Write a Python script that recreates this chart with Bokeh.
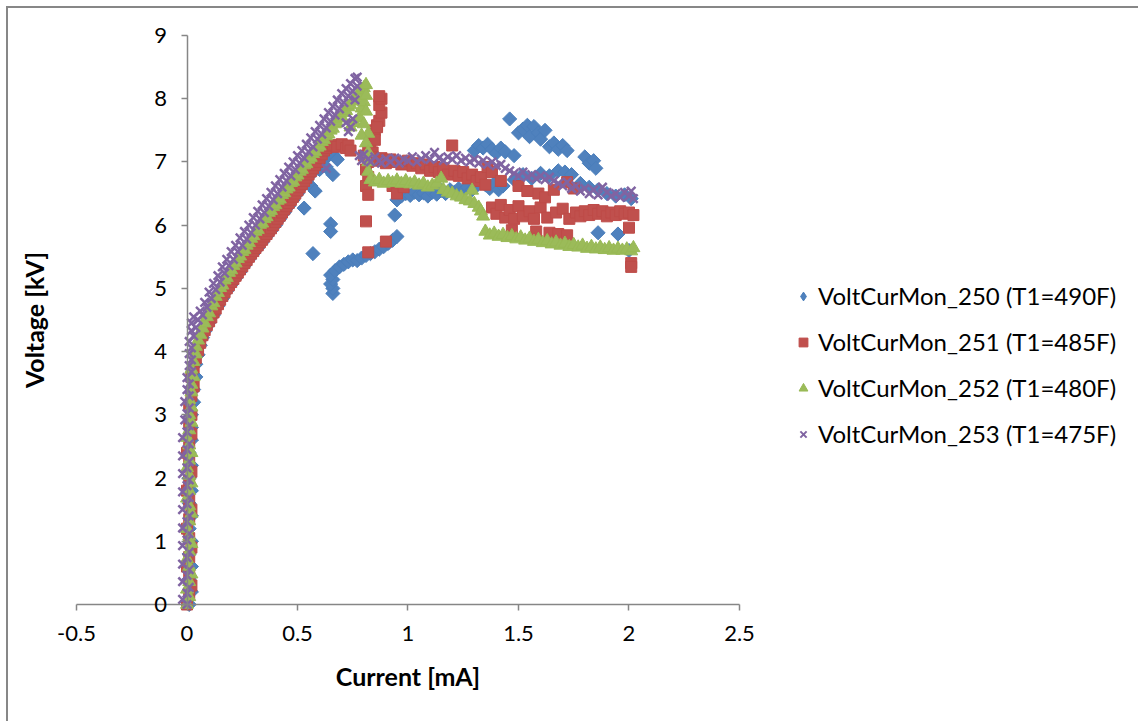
import math

from bokeh.embed import file_html
from bokeh.models import (ColumnDataSource, CustomJSTickFormatter, FixedTicker,
                          Legend, LegendItem, Range1d)
from bokeh.plotting import figure
from bokeh.resources import INLINE

# ---- measured current [mA] / voltage [kV] pairs, one list per run ----
run_250 = [
    (0.01, 0.00), (0.02, 0.20), (0.01, 0.40), (0.02, 0.60), (0.01, 0.80), (0.02, 1.00),
    (0.01, 1.20), (0.02, 1.40), (0.01, 1.60), (0.02, 1.80), (0.01, 2.00), (0.02, 2.20),
    (0.01, 2.40), (0.02, 2.60), (0.02, 2.80), (0.02, 3.00), (0.03, 3.20), (0.03, 3.40),
    (0.04, 3.60), (0.04, 3.80), (0.05, 3.95), (0.06, 4.10), (0.07, 4.22), (0.08, 4.32),
    (0.09, 4.40), (0.10, 4.46), (0.12, 4.58), (0.14, 4.72), (0.16, 4.84), (0.18, 4.96),
    (0.20, 5.06), (0.22, 5.16), (0.24, 5.26), (0.26, 5.36), (0.28, 5.46), (0.30, 5.55),
    (0.32, 5.64), (0.34, 5.73), (0.36, 5.82), (0.38, 5.91), (0.40, 6.00), (0.42, 6.10),
    (0.44, 6.20), (0.46, 6.30), (0.48, 6.40), (0.50, 6.50), (0.52, 6.60), (0.54, 6.70),
    (0.56, 6.80), (0.58, 6.90), (0.60, 7.00), (0.62, 7.08), (0.64, 7.10), (0.66, 7.12),
    (0.68, 7.04), (0.58, 6.96), (0.60, 6.88), (0.63, 6.92), (0.66, 6.80), (0.56, 6.62),
    (0.58, 6.54), (0.53, 6.27), (0.65, 6.02), (0.65, 5.90), (0.57, 5.55),
    (0.66, 4.92), (0.66, 5.00), (0.65, 5.07), (0.66, 5.14), (0.65, 5.21), (0.67, 5.28),
    (0.69, 5.34), (0.71, 5.38), (0.73, 5.42), (0.75, 5.45), (0.77, 5.44), (0.79, 5.48),
    (0.81, 5.52), (0.83, 5.55), (0.85, 5.58), (0.87, 5.62), (0.89, 5.66), (0.91, 5.71),
    (0.93, 5.76), (0.95, 5.82), (0.94, 6.16), (0.95, 6.40), (0.97, 6.46), (0.99, 6.50),
    (1.01, 6.47), (1.03, 6.52), (1.05, 6.48), (1.07, 6.51), (1.09, 6.46), (1.11, 6.52),
    (1.13, 6.49), (1.15, 6.55), (1.17, 6.50), (1.19, 6.56), (1.21, 6.52), (1.23, 6.58),
    (1.25, 6.54), (1.27, 6.60), (1.29, 6.56), (1.31, 6.62), (1.33, 6.70), (1.35, 6.64),
    (1.37, 6.58), (1.39, 6.66), (1.41, 6.56), (1.43, 6.62),
    (1.30, 7.18), (1.32, 7.26), (1.34, 7.22), (1.36, 7.28), (1.38, 7.20), (1.40, 7.14),
    (1.42, 7.22), (1.44, 7.16), (1.46, 7.68), (1.48, 7.10), (1.50, 7.46), (1.52, 7.52),
    (1.54, 7.58), (1.55, 7.40), (1.57, 7.56), (1.59, 7.46), (1.60, 7.36), (1.62, 7.50),
    (1.64, 7.24), (1.66, 7.30), (1.68, 7.20), (1.70, 7.26), (1.72, 7.18), (1.80, 7.08),
    (1.82, 6.98), (1.84, 7.02), (1.85, 6.90),
    (1.48, 6.72), (1.52, 6.80), (1.56, 6.74), (1.60, 6.82), (1.64, 6.78), (1.68, 6.86),
    (1.71, 6.84), (1.74, 6.80), (1.78, 6.66), (1.82, 6.60), (1.86, 6.56), (1.90, 6.50),
    (1.94, 6.46), (1.98, 6.48), (2.01, 6.42), (1.86, 5.88), (1.95, 5.86), (2.00, 5.60),
]

run_251 = [
    (0.00, 0.00), (0.01, 0.15), (0.02, 0.30), (0.01, 0.45), (0.00, 0.60), (0.01, 0.75),
    (0.02, 0.90), (0.01, 1.05), (0.00, 1.20), (0.01, 1.35), (0.02, 1.50), (0.01, 1.65),
    (0.00, 1.80), (0.01, 1.95), (0.02, 2.10), (0.01, 2.25), (0.00, 2.40), (0.01, 2.55),
    (0.02, 2.70), (0.01, 2.85), (0.02, 3.00), (0.01, 3.15), (0.02, 3.30), (0.03, 3.45),
    (0.02, 3.60), (0.03, 3.75), (0.04, 3.90), (0.05, 4.02), (0.06, 4.14), (0.07, 4.26),
    (0.08, 4.34), (0.09, 4.42), (0.10, 4.48), (0.11, 4.54), (0.12, 4.62), (0.13, 4.68),
    (0.14, 4.75), (0.15, 4.82), (0.16, 4.88), (0.17, 4.94), (0.18, 5.00), (0.19, 5.05),
    (0.20, 5.10), (0.21, 5.15), (0.22, 5.20), (0.23, 5.25), (0.24, 5.30), (0.25, 5.35),
    (0.26, 5.40), (0.27, 5.45), (0.28, 5.50), (0.29, 5.55), (0.30, 5.59), (0.31, 5.64),
    (0.32, 5.68), (0.33, 5.73), (0.34, 5.77), (0.35, 5.82), (0.36, 5.86), (0.37, 5.91),
    (0.38, 5.95), (0.39, 6.00), (0.40, 6.05), (0.41, 6.10), (0.42, 6.15), (0.43, 6.20),
    (0.44, 6.25), (0.45, 6.30), (0.46, 6.35), (0.47, 6.40), (0.48, 6.45), (0.49, 6.50),
    (0.50, 6.55), (0.51, 6.60), (0.52, 6.65), (0.53, 6.70), (0.54, 6.75), (0.55, 6.80),
    (0.56, 6.85), (0.57, 6.90), (0.58, 6.95), (0.59, 7.00), (0.60, 7.06), (0.61, 7.12),
    (0.62, 7.18), (0.63, 7.22), (0.64, 7.25), (0.66, 7.27), (0.68, 7.24), (0.70, 7.28),
    (0.72, 7.22), (0.73, 7.26), (0.74, 7.18),
    (0.80, 7.10), (0.82, 7.20), (0.83, 7.30), (0.84, 7.40), (0.85, 7.50), (0.86, 7.58),
    (0.87, 7.65), (0.88, 7.78), (0.87, 7.90), (0.88, 8.00), (0.87, 8.04), (0.86, 7.55),
    (0.85, 7.35), (0.84, 7.15), (0.82, 7.00), (0.81, 6.88), (0.82, 6.76), (0.81, 6.62),
    (0.82, 6.48), (0.81, 6.06), (0.82, 5.57), (0.90, 5.74),
    (0.84, 7.08), (0.86, 7.02), (0.88, 7.06), (0.90, 6.98), (0.92, 7.04), (0.93, 6.62),
    (0.95, 6.50), (0.95, 7.00), (0.97, 6.96), (0.98, 6.60), (1.00, 7.02), (1.02, 6.94),
    (1.04, 6.98), (1.06, 6.90), (1.08, 6.96), (1.10, 6.86), (1.12, 6.92), (1.14, 6.84),
    (1.16, 6.90), (1.18, 6.80), (1.20, 7.26), (1.21, 6.86), (1.23, 6.78), (1.25, 6.84),
    (1.27, 6.74), (1.29, 6.80), (1.31, 6.70), (1.33, 6.76), (1.35, 6.64), (1.36, 6.92),
    (1.38, 6.84), (1.38, 6.28), (1.40, 6.18), (1.42, 6.70), (1.42, 6.32), (1.44, 6.12),
    (1.46, 6.24), (1.47, 5.92), (1.48, 6.10), (1.50, 6.30), (1.50, 6.62), (1.52, 6.14),
    (1.54, 6.54), (1.55, 6.22), (1.57, 6.10), (1.58, 5.90), (1.59, 6.50), (1.60, 6.28),
    (1.62, 6.44), (1.63, 6.12), (1.64, 5.88), (1.66, 6.56), (1.67, 6.20), (1.68, 5.86),
    (1.70, 6.26), (1.72, 6.68), (1.72, 5.84), (1.73, 6.10), (1.75, 6.58), (1.76, 6.20),
    (1.78, 6.14), (1.80, 6.22), (1.82, 6.16), (1.84, 6.24), (1.86, 6.18), (1.88, 6.22),
    (1.90, 6.14), (1.92, 6.20), (1.94, 6.16), (1.96, 6.22), (1.98, 6.18), (2.00, 6.20),
    (2.00, 5.96), (2.01, 5.40), (2.01, 5.34), (2.02, 6.16),
]

run_252 = [
    (0.00, 0.00), (0.01, 0.12), (0.00, 0.24), (0.01, 0.36), (0.02, 0.48), (0.01, 0.60),
    (0.00, 0.72), (0.01, 0.84), (0.02, 0.96), (0.01, 1.08), (0.00, 1.20), (0.01, 1.32),
    (0.02, 1.44), (0.01, 1.56), (0.00, 1.68), (0.01, 1.80), (0.02, 1.92), (0.01, 2.04),
    (0.00, 2.16), (0.01, 2.28), (0.02, 2.40), (0.01, 2.52), (0.00, 2.64), (0.01, 2.76),
    (0.02, 2.88), (0.01, 3.00), (0.02, 3.12), (0.01, 3.24), (0.02, 3.36), (0.02, 3.48),
    (0.03, 3.60), (0.02, 3.72), (0.03, 3.84), (0.04, 3.96), (0.04, 4.08), (0.05, 4.18),
    (0.06, 4.27), (0.07, 4.37), (0.08, 4.45), (0.09, 4.55), (0.10, 4.61), (0.11, 4.72),
    (0.12, 4.77), (0.13, 4.87), (0.14, 4.93), (0.15, 5.01), (0.16, 5.05), (0.17, 5.13),
    (0.18, 5.17), (0.19, 5.25), (0.20, 5.29), (0.21, 5.36), (0.22, 5.40), (0.23, 5.47),
    (0.24, 5.51), (0.25, 5.58), (0.26, 5.61), (0.27, 5.68), (0.28, 5.72), (0.29, 5.79),
    (0.30, 5.83), (0.31, 5.90), (0.32, 5.93), (0.33, 6.01), (0.34, 6.03), (0.35, 6.10),
    (0.36, 6.13), (0.37, 6.20), (0.38, 6.23), (0.39, 6.29), (0.40, 6.32), (0.41, 6.39),
    (0.42, 6.41), (0.43, 6.48), (0.44, 6.51), (0.45, 6.57), (0.46, 6.60), (0.47, 6.67),
    (0.48, 6.69), (0.49, 6.76), (0.50, 6.79), (0.51, 6.85), (0.52, 6.88), (0.53, 6.95),
    (0.54, 6.97), (0.55, 7.04), (0.56, 7.07), (0.57, 7.13), (0.58, 7.16), (0.59, 7.23),
    (0.60, 7.25), (0.61, 7.32), (0.62, 7.35), (0.63, 7.41), (0.64, 7.44), (0.65, 7.50),
    (0.66, 7.53), (0.67, 7.60), (0.68, 7.62), (0.69, 7.69), (0.70, 7.71), (0.71, 7.78),
    (0.72, 7.81), (0.73, 7.87), (0.74, 7.90), (0.75, 7.96), (0.76, 7.99), (0.77, 8.05),
    (0.78, 8.08), (0.79, 8.14), (0.80, 8.17), (0.81, 8.22),
    (0.74, 7.55), (0.76, 7.62), (0.78, 7.70), (0.79, 7.85), (0.80, 7.95), (0.81, 8.05),
    (0.81, 7.80), (0.80, 7.60), (0.82, 7.45), (0.79, 7.42), (0.81, 7.30), (0.82, 7.15),
    (0.82, 7.00), (0.82, 6.85), (0.83, 6.72),
    (0.85, 6.68), (0.87, 6.72), (0.89, 6.66), (0.91, 6.70), (0.93, 6.67), (0.95, 6.71),
    (0.97, 6.66), (0.99, 6.70), (1.01, 6.65), (1.03, 6.68), (1.05, 6.63), (1.07, 6.66),
    (1.09, 6.60), (1.11, 6.63), (1.13, 6.66), (1.15, 6.74), (1.16, 6.56), (1.18, 6.52),
    (1.20, 6.50), (1.22, 6.46), (1.24, 6.44), (1.26, 6.40), (1.28, 6.38), (1.29, 6.55),
    (1.30, 6.34), (1.32, 6.28), (1.33, 6.22), (1.34, 6.14),
    (1.35, 5.90), (1.37, 5.84), (1.39, 5.87), (1.41, 5.82), (1.43, 5.85), (1.45, 5.80),
    (1.47, 5.83), (1.49, 5.78), (1.51, 5.81), (1.53, 5.76), (1.55, 5.79), (1.57, 5.74),
    (1.59, 5.77), (1.61, 5.72), (1.63, 5.75), (1.65, 5.70), (1.67, 5.73), (1.69, 5.68),
    (1.71, 5.71), (1.73, 5.66), (1.75, 5.69), (1.77, 5.65), (1.79, 5.68), (1.81, 5.63),
    (1.83, 5.66), (1.85, 5.62), (1.87, 5.65), (1.89, 5.61), (1.91, 5.64), (1.93, 5.60),
    (1.95, 5.63), (1.97, 5.60), (1.99, 5.62), (2.01, 5.59), (2.02, 5.64),
]

run_253 = [
    (0.00, 0.00), (-0.02, 0.08), (0.00, 0.18), (0.01, 0.27), (-0.02, 0.36), (0.00, 0.46),
    (0.01, 0.55), (-0.02, 0.64), (0.00, 0.74), (0.01, 0.83), (-0.02, 0.93), (0.00, 1.02),
    (0.01, 1.12), (-0.02, 1.21), (0.00, 1.31), (0.01, 1.40), (-0.02, 1.50), (0.00, 1.59),
    (0.01, 1.69), (-0.02, 1.78), (0.00, 1.88), (0.01, 1.97), (-0.02, 2.07), (0.00, 2.16),
    (0.01, 2.26), (-0.02, 2.35), (0.00, 2.45), (0.01, 2.54), (-0.02, 2.64), (0.00, 2.73),
    (0.01, 2.83), (-0.01, 2.92), (0.00, 3.02), (0.01, 3.11), (-0.01, 3.21), (0.01, 3.30),
    (0.00, 3.40), (0.01, 3.49), (0.00, 3.59), (0.02, 3.68), (0.01, 3.78), (0.02, 3.87),
    (0.01, 3.97), (0.02, 4.06), (0.01, 4.16), (0.03, 4.25), (0.02, 4.33), (0.04, 4.38),
    (0.02, 4.45), (0.05, 4.50), (0.03, 4.55),
    (0.06, 4.64), (0.07, 4.58), (0.08, 4.78), (0.09, 4.70), (0.10, 4.94), (0.11, 4.84),
    (0.12, 5.08), (0.13, 4.98), (0.14, 5.20), (0.15, 5.10), (0.16, 5.34), (0.17, 5.24),
    (0.18, 5.46), (0.19, 5.36), (0.20, 5.58), (0.21, 5.46), (0.22, 5.68), (0.23, 5.58),
    (0.24, 5.80), (0.25, 5.68), (0.26, 5.90), (0.27, 5.78), (0.28, 6.00), (0.29, 5.88),
    (0.30, 6.12), (0.31, 6.00), (0.32, 6.22), (0.33, 6.10), (0.34, 6.32), (0.35, 6.20),
    (0.36, 6.42), (0.37, 6.30), (0.38, 6.52), (0.39, 6.40), (0.40, 6.62), (0.41, 6.50),
    (0.42, 6.72), (0.43, 6.60), (0.44, 6.82), (0.45, 6.70), (0.46, 6.92), (0.47, 6.78),
    (0.48, 7.00), (0.49, 6.88), (0.50, 7.10), (0.51, 6.98), (0.52, 7.18), (0.53, 7.06),
    (0.54, 7.28), (0.55, 7.16), (0.56, 7.38), (0.57, 7.24), (0.58, 7.48), (0.59, 7.36),
    (0.60, 7.58), (0.61, 7.44), (0.62, 7.68), (0.63, 7.54), (0.64, 7.78), (0.65, 7.64),
    (0.66, 7.88), (0.67, 7.74), (0.68, 7.98), (0.69, 7.84), (0.70, 8.08), (0.71, 7.94),
    (0.72, 8.16), (0.73, 8.04), (0.74, 8.24), (0.75, 8.12), (0.76, 8.32), (0.77, 8.20),
    (0.77, 8.34),
    (0.63, 6.90), (0.72, 7.62), (0.74, 7.55), (0.75, 7.68), (0.73, 7.48), (0.76, 7.98),
    (0.78, 7.10), (0.79, 7.02), (0.80, 7.12), (0.82, 7.05), (0.83, 7.00), (0.85, 7.08),
    (0.87, 7.02), (0.88, 6.98), (0.90, 7.05), (0.92, 7.00), (0.94, 7.06), (0.96, 6.98),
    (0.98, 7.04), (1.00, 7.02), (1.02, 7.08), (1.04, 7.00), (1.06, 7.05), (1.08, 7.10),
    (1.10, 7.04), (1.12, 7.15), (1.14, 7.06), (1.16, 7.02), (1.18, 7.08), (1.20, 7.04),
    (1.22, 7.10), (1.24, 7.02), (1.26, 7.06), (1.28, 7.00), (1.30, 7.04), (1.32, 6.98),
    (1.34, 7.02), (1.36, 6.96), (1.38, 7.00), (1.40, 6.94), (1.42, 6.96), (1.44, 6.90),
    (1.46, 6.86), (1.48, 6.82), (1.50, 6.78), (1.52, 6.84), (1.54, 6.76), (1.56, 6.80),
    (1.58, 6.74), (1.60, 6.78), (1.62, 6.72), (1.64, 6.76), (1.66, 6.70), (1.68, 6.66),
    (1.70, 6.62), (1.72, 6.68), (1.74, 6.58), (1.76, 6.62), (1.78, 6.54), (1.80, 6.58),
    (1.82, 6.50), (1.84, 6.56), (1.86, 6.48), (1.88, 6.60), (1.90, 6.52), (1.92, 6.46),
    (1.94, 6.50), (1.96, 6.44), (1.98, 6.52), (2.00, 6.46), (2.01, 6.54), (2.02, 6.42),
]

series_labels = [
    "VoltCurMon_250 (T1=490F)",
    "VoltCurMon_251 (T1=485F)",
    "VoltCurMon_252 (T1=480F)",
    "VoltCurMon_253 (T1=475F)",
]
x_ticks = [-0.5, 0, 0.5, 1, 1.5, 2, 2.5]
y_ticks = [0, 1, 2, 3, 4, 5, 6, 7, 8, 9]

FONT = "Lato"
AXIS_GREY = "#868686"

# The plotting frame spans the whole canvas; both axes sit at the data origin
# and are bounded to the value ranges, which leaves room around them for the
# axis titles and the legend.
p = figure(
    width=1132, height=715,
    x_range=Range1d(-0.8077, 4.3145), y_range=Range1d(-1.8823, 9.4271),
    output_backend="svg", toolbar_location=None,
    min_border=0,
    background_fill_color="white", border_fill_color="white",
    styles={
        "margin-left": "6px", "margin-top": "6px",
        "border-left": "2px solid #878787", "border-top": "2px solid #878787",
    },
)
p.grid.visible = False
p.outline_line_color = None

tick_fmt = CustomJSTickFormatter(code="return String(tick)")

for ax in (p.xaxis[0], p.yaxis[0]):
    ax.fixed_location = 0
    ax.formatter = tick_fmt
    ax.axis_line_color = AXIS_GREY
    ax.axis_line_width = 1.5
    ax.major_tick_line_color = AXIS_GREY
    ax.major_tick_line_width = 1.5
    ax.major_tick_out = 6
    ax.major_tick_in = 0
    ax.minor_tick_line_color = None
    ax.major_label_text_font = FONT
    ax.major_label_text_font_size = "22px"
    ax.major_label_text_color = "black"
    ax.axis_label_text_font = FONT
    ax.axis_label_text_font_style = "bold"
    ax.axis_label_text_font_size = "25px"
    ax.axis_label_text_color = "black"

xa = p.xaxis[0]
xa.ticker = FixedTicker(ticks=x_ticks)
xa.bounds = (x_ticks[0], x_ticks[-1])
xa.major_label_standoff = 16
xa.axis_label = "Current [mA]"
xa.axis_label_standoff = 16

ya = p.yaxis[0]
ya.ticker = FixedTicker(ticks=y_ticks)
ya.bounds = (y_ticks[0], y_ticks[-1])
ya.major_label_standoff = 14
ya.axis_label = "Voltage [kV]"
ya.axis_label_standoff = 103

colors = [("#4F81BD", "#4A7EBB"), ("#C0504D", "#BE4B48"),
          ("#9BBB59", "#98B954"), ("#8064A2", "#8064A2")]
styles = [
    dict(marker="square", angle=math.pi / 4, size=10),
    dict(marker="square", size=11),
    dict(marker="triangle", size=13),
    dict(marker="x", size=12, line_width=2.5),
]
legend_markers = ["diamond", "square", "triangle", "x"]
runs = [run_250, run_251, run_252, run_253]

items = []
for run, label, st, (fill, line), lm in zip(runs, series_labels, styles, colors, legend_markers):
    src = ColumnDataSource(data=dict(cur=[c for c, _ in run], volt=[v for _, v in run]))
    p.scatter("cur", "volt", source=src, fill_color=fill, line_color=line, **st)
    # legend swatch: same colours, marker drawn upright at legend scale
    key = p.scatter(x=[float("nan")], y=[float("nan")], marker=lm,
                    fill_color=fill, line_color=line,
                    line_width=2 if lm == "x" else 1)
    items.append(LegendItem(label=label, renderers=[key]))

legend = Legend(
    items=items, location=(784, 275),
    padding=0, margin=0, spacing=17,
    glyph_width=22, glyph_height=22, label_height=24, label_standoff=4,
    label_text_font=FONT, label_text_font_size="24px", label_text_color="black",
    border_line_color=None, background_fill_alpha=0,
)
p.add_layout(legend)

open("out.html", "w").write(file_html(p, INLINE))
